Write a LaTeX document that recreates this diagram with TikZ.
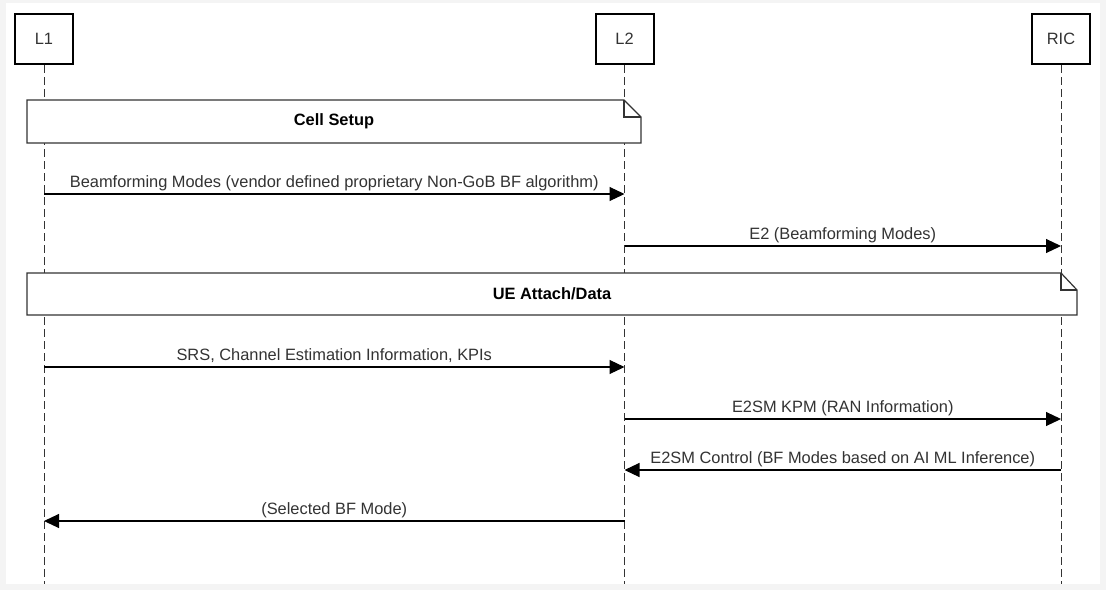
\documentclass[tikz,border=0pt]{standalone}
\usepackage{fontspec}
\setmainfont{Liberation Sans}
\usetikzlibrary{arrows.meta, positioning, calc}
\definecolor{inkgray}{RGB}{51,51,51}
\definecolor{pagegray}{RGB}{244,244,244}

\begin{document}
\begin{tikzpicture}[x=1pt, y=-1pt,
    actor/.style={draw=black, line width=2pt, minimum width=58pt, minimum height=50pt,
      font=\fontsize{16.4}{18}\selectfont, text=inkgray},
    life/.style={draw=inkgray, dash pattern=on 8pt off 4pt, line width=1pt},
    msg/.style={draw=black, line width=1.1pt, -{Triangle[length=15pt, width=14pt]}},
    lbl/.style={font=\fontsize{16.4}{18}\selectfont, text=inkgray, anchor=base, yshift=7pt},
    notebox/.style={draw=inkgray, line width=1.2pt, fill=white},
    notetext/.style={font=\bfseries\fontsize{16.4}{18}\selectfont, text=black}]
    % page
    \fill[pagegray] (0,0) rectangle (1106,590);
    \fill[white] (6,3) rectangle (1100,584);
    \useasboundingbox (0,0) rectangle (1106,590);
    % actors
    \node[actor] (L1) at (44,39) {L1};
    \node[actor] (L2) at (624.5,39) {L2};
    \node[actor] (RIC) at (1061,39) {RIC};
    \foreach \n in {L1,L2,RIC} {
      \draw[life] (\n.south) -- (\n |- 0,584);
    }
    % notes
    \draw[notebox] (27,100) -- (624,100) -- (641,117) -- (641,143) -- (27,143) -- cycle;
    \draw[inkgray, line width=1.2pt] (624,100) -- (624,117) -- (641,117);
    \node[notetext] (cellsetup) at (334,121.5) {Cell Setup};
    \draw[notebox] (27,273) -- (1061,273) -- (1077,290) -- (1077,315) -- (27,315) -- cycle;
    \draw[inkgray, line width=1.2pt] (1061,273) -- (1061,290) -- (1077,290);
    \node[notetext] (ueattach) at (552,294) {UE Attach/Data};
    % messages
    \draw[msg] (L1 |- 0,194) -- node[lbl] (m1) {Beamforming Modes (vendor defined proprietary Non-GoB BF algorithm)} (L2 |- 0,194);
    \draw[msg] (L2 |- 0,246) -- node[lbl] (m2) {E2 (Beamforming Modes)} (RIC |- 0,246);
    \draw[msg] (L1 |- 0,367) -- node[lbl] (m3) {SRS, Channel Estimation Information, KPIs} (L2 |- 0,367);
    \draw[msg] (L2 |- 0,419) -- node[lbl] (m4) {E2SM KPM (RAN Information)} (RIC |- 0,419);
    \draw[msg] (RIC |- 0,470) -- node[lbl] (m5) {E2SM Control (BF Modes based on AI ML Inference)} (L2 |- 0,470);
    \draw[msg] (L2 |- 0,521) -- node[lbl] (m6) {(Selected BF Mode)} (L1 |- 0,521);
\end{tikzpicture}
\end{document}
